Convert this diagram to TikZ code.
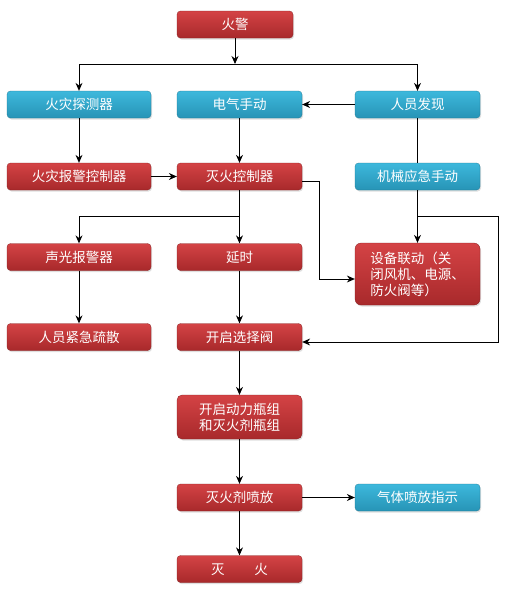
\documentclass[tikz,border=0pt]{standalone}
\usepackage{fontspec}
\newfontfamily\cjk{Noto Sans CJK SC}
\usetikzlibrary{arrows.meta,shadows,calc}
\definecolor{redtop}{HTML}{D44345}
\definecolor{redbot}{HTML}{A8292B}
\definecolor{bluetop}{HTML}{3DB8DC}
\definecolor{bluebot}{HTML}{2794B6}
\tikzset{
  box/.style={rounded corners=3.5pt,minimum height=27pt,inner sep=2pt,
    text=white,font=\cjk\fontsize{13.5}{16}\selectfont,
    drop shadow={shadow xshift=1pt,shadow yshift=-1.5pt,opacity=0.25}},
  redbox/.style={box,top color=redtop,bottom color=redbot,draw=redbot!80!black,line width=0.3pt},
  bluebox/.style={box,top color=bluetop,bottom color=bluebot,draw=bluebot!80!black,line width=0.3pt},
  link/.style={->,line width=0.9pt},
}
\begin{document}
\begin{tikzpicture}[>={Stealth[length=8pt,width=7pt]},x=1pt,y=-1pt]
		\useasboundingbox (0,0) rectangle (505,595);
		% boxes
		\node[redbox,minimum width=116pt] (alarm) at (235,24.5) {火警};
		\node[bluebox,minimum width=144pt] (detect) at (79,104.5) {火灾探测器};
		\node[bluebox,minimum width=125pt] (elec) at (239.5,104.5) {电气手动};
		\node[bluebox,minimum width=125pt] (find) at (417.5,104.5) {人员发现};
		\node[redbox,minimum width=144pt] (alarmctl) at (79,176.5) {火灾报警控制器};
		\node[redbox,minimum width=125pt] (ctl) at (239.5,176.5) {灭火控制器};
		\node[bluebox,minimum width=125pt] (mech) at (417.5,176.5) {机械应急手动};
		\node[redbox,minimum width=144pt] (sound) at (79,257) {声光报警器};
		\node[redbox,minimum width=125pt] (delay) at (239.5,257) {延时};
		\node[redbox,minimum width=125pt,minimum height=62pt,align=left,rounded corners=6pt] (equip) at (417.5,274)
			{设备联动（关\\闭风机、电源、\\防火阀等）};
		\node[redbox,minimum width=144pt] (evac) at (79,337) {人员紧急疏散};
		\node[redbox,minimum width=125pt] (valve) at (239.5,337) {开启选择阀};
		\node[redbox,minimum width=125pt,minimum height=44pt,align=center,rounded corners=5pt] (bottle) at (239.5,417) {开启动力瓶组\\和灭火剂瓶组};
		\node[redbox,minimum width=125pt] (spray) at (239.5,497.5) {灭火剂喷放};
		\node[bluebox,minimum width=125pt] (show) at (417.5,497.5) {气体喷放指示};
		\node[redbox,minimum width=125pt] (out) at (239.5,569) {灭\hspace{2.2em}火};
		% junctions
		\coordinate (j1) at (235,64);
		\coordinate (j2) at (239.5,216.5);
		\coordinate (j3) at (417.5,216);
		\coordinate (r1) at (498,216);
		% links
		\draw[link] (alarm) -- (j1);
		\draw[link] (j1) -| (detect);
		\draw[link] (j1) -| (find);
		\draw[link] (find) -- (elec);
		\draw[link] (detect) -- (alarmctl);
		\draw[link] (elec) -- (ctl);
		\draw[link] (alarmctl) -- (ctl);
		\draw[line width=0.9pt] (find) -- (mech);
		\draw[link] (mech) -- (equip);
		\draw[line width=0.9pt] (j3) -- (r1);
		\draw[link] (r1) |- ([yshift=-5pt]valve.east);
		\draw[link] ([yshift=-4.5pt]ctl.east) -- ++(17,0) |- ([yshift=-5pt]equip.west);
		\draw[line width=0.9pt] (ctl) -- (j2);
		\draw[link] (j2) -- (delay);
		\draw[link] (j2) -| (sound);
		\draw[link] (sound) -- (evac);
		\draw[link] (delay) -- (valve);
		\draw[link] (valve) -- (bottle);
		\draw[link] (bottle) -- (spray);
		\draw[link] (spray) -- (show);
		\draw[link] (spray) -- (out);
\end{tikzpicture}
\end{document}
